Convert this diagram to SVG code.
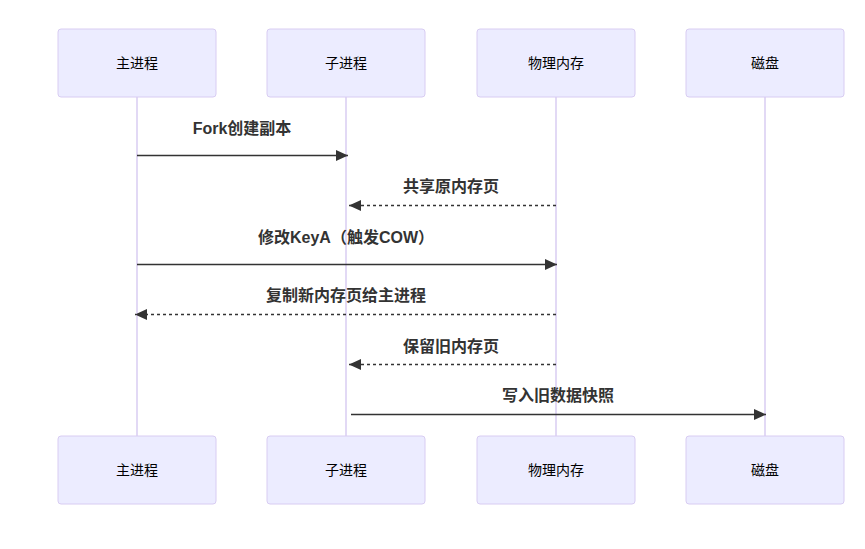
<svg xmlns="http://www.w3.org/2000/svg" width="865" height="549" viewBox="0 0 865 549">
<style>
.actor{fill:#ECECFF;stroke:#D8CCF2;stroke-width:1}
.atext{font-family:"Liberation Sans","Noto Sans CJK SC",sans-serif;font-size:14px;fill:#000;text-anchor:middle;dominant-baseline:central}
.life{stroke:#D8CCF2;stroke-width:1.5;fill:none}
.msg{stroke:#333;stroke-width:1.5;fill:none}
.dash{stroke-dasharray:3,3}
.mtext{font-family:"Liberation Sans","Noto Sans CJK SC",sans-serif;font-size:16px;font-weight:bold;fill:#333;text-anchor:middle;dominant-baseline:central}
</style>
<defs>
<marker id="arrow" markerUnits="userSpaceOnUse" markerWidth="12" markerHeight="12" refX="12" refY="5.5" orient="auto">
<path d="M0,0 L12,5.5 L0,11 z" fill="#333"/>
</marker>
</defs>
<rect width="865" height="549" fill="#fff"/>
<g id="lifelines">
<line class="life" x1="137" y1="97" x2="137" y2="436"/>
<line class="life" x1="346" y1="97" x2="346" y2="436"/>
<line class="life" x1="556" y1="97" x2="556" y2="436"/>
<line class="life" x1="765" y1="97" x2="765" y2="436"/>
</g>
<g id="main-top"><rect class="actor" x="58" y="29" width="158" height="68" rx="3"/><text class="atext" x="137" y="63">主进程</text></g>
<g id="child-top"><rect class="actor" x="267" y="29" width="158" height="68" rx="3"/><text class="atext" x="346" y="63">子进程</text></g>
<g id="mem-top"><rect class="actor" x="477" y="29" width="158" height="68" rx="3"/><text class="atext" x="556" y="63">物理内存</text></g>
<g id="disk-top"><rect class="actor" x="686" y="29" width="158" height="68" rx="3"/><text class="atext" x="765" y="63">磁盘</text></g>
<g id="main-bottom"><rect class="actor" x="58" y="436" width="158" height="68" rx="3"/><text class="atext" x="137" y="470">主进程</text></g>
<g id="child-bottom"><rect class="actor" x="267" y="436" width="158" height="68" rx="3"/><text class="atext" x="346" y="470">子进程</text></g>
<g id="mem-bottom"><rect class="actor" x="477" y="436" width="158" height="68" rx="3"/><text class="atext" x="556" y="470">物理内存</text></g>
<g id="disk-bottom"><rect class="actor" x="686" y="436" width="158" height="68" rx="3"/><text class="atext" x="765" y="470">磁盘</text></g>
<g id="connectors">
<line class="msg" x1="137" y1="155.5" x2="348" y2="155.5" marker-end="url(#arrow)"/>
<text class="mtext" x="242" y="128.5">Fork创建副本</text>
<line class="msg dash" x1="556" y1="205.5" x2="349" y2="205.5" marker-end="url(#arrow)"/>
<text class="mtext" x="451" y="186">共享原内存页</text>
<line class="msg" x1="137" y1="264.5" x2="557" y2="264.5" marker-end="url(#arrow)"/>
<text class="mtext" x="346" y="237">修改KeyA（触发COW）</text>
<line class="msg dash" x1="556" y1="314.5" x2="135" y2="314.5" marker-end="url(#arrow)"/>
<text class="mtext" x="346" y="295">复制新内存页给主进程</text>
<line class="msg dash" x1="556" y1="364.5" x2="349" y2="364.5" marker-end="url(#arrow)"/>
<text class="mtext" x="451" y="346">保留旧内存页</text>
<line class="msg" x1="351" y1="414.5" x2="766" y2="414.5" marker-end="url(#arrow)"/>
<text class="mtext" x="558" y="395.5">写入旧数据快照</text>
</g>
</svg>
